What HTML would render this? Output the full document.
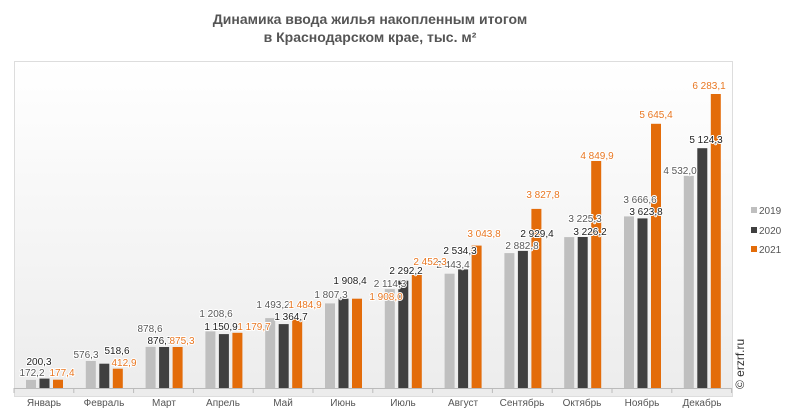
<!DOCTYPE html>
<html><head><meta charset="utf-8"><style>
body{margin:0;background:#fff;}
svg{display:block;font-family:"Liberation Sans",Arial,sans-serif;}
.lb text{paint-order:stroke;stroke:#fff;stroke-width:2px;stroke-linejoin:round;}
</style></head><body>
<svg width="793" height="415" viewBox="0 0 793 415" xmlns="http://www.w3.org/2000/svg">
<defs><linearGradient id="bg" x1="0" y1="0" x2="0" y2="1"><stop offset="0" stop-color="#ffffff"/><stop offset="1" stop-color="#ececec"/></linearGradient></defs>
<text x="370" y="24" text-anchor="middle" font-size="14" font-weight="bold" fill="#555">Динамика ввода жилья накопленным итогом</text>
<text x="370" y="42" text-anchor="middle" font-size="14" font-weight="bold" fill="#555">в Краснодарском крае, тыс. м²</text>
<rect x="14.5" y="61.5" width="718" height="335" fill="url(#bg)" stroke="#ddd"/>
<line x1="14" y1="388.5" x2="732" y2="388.5" stroke="#bbb"/>
<g stroke="#bbb">
<line x1="14" y1="388" x2="14" y2="393"/><line x1="73.8" y1="388" x2="73.8" y2="393"/><line x1="133.6" y1="388" x2="133.6" y2="393"/><line x1="193.4" y1="388" x2="193.4" y2="393"/><line x1="253.2" y1="388" x2="253.2" y2="393"/><line x1="313" y1="388" x2="313" y2="393"/><line x1="372.8" y1="388" x2="372.8" y2="393"/><line x1="432.6" y1="388" x2="432.6" y2="393"/><line x1="492.4" y1="388" x2="492.4" y2="393"/><line x1="552.2" y1="388" x2="552.2" y2="393"/><line x1="612" y1="388" x2="612" y2="393"/><line x1="671.8" y1="388" x2="671.8" y2="393"/><line x1="731.6" y1="388" x2="731.6" y2="393"/>
</g>
<g fill="#bfbfbf">
<rect x="26" y="379.9" width="10" height="8.1"/><rect x="85.8" y="361" width="10" height="27"/><rect x="145.6" y="346.9" width="10" height="41.1"/><rect x="205.4" y="331.4" width="10" height="56.6"/><rect x="265.2" y="318.1" width="10" height="69.9"/><rect x="325" y="303.4" width="10" height="84.6"/><rect x="384.8" y="289.1" width="10" height="98.9"/><rect x="444.6" y="273.7" width="10" height="114.3"/><rect x="504.4" y="253.1" width="10" height="134.9"/><rect x="564.2" y="237.1" width="10" height="150.9"/><rect x="624" y="216.4" width="10" height="171.6"/><rect x="683.8" y="175.9" width="10" height="212.1"/>
</g>
<g fill="#404040">
<rect x="39.5" y="378.6" width="10" height="9.4"/><rect x="99.3" y="363.7" width="10" height="24.3"/><rect x="159.1" y="347" width="10" height="41"/><rect x="218.9" y="334.1" width="10" height="53.9"/><rect x="278.7" y="324.1" width="10" height="63.9"/><rect x="338.5" y="298.7" width="10" height="89.3"/><rect x="398.3" y="280.7" width="10" height="107.3"/><rect x="458.1" y="269.4" width="10" height="118.6"/><rect x="517.9" y="250.9" width="10" height="137.1"/><rect x="577.7" y="237" width="10" height="151"/><rect x="637.5" y="218.4" width="10" height="169.6"/><rect x="697.3" y="148.2" width="10" height="239.8"/>
</g>
<g fill="#e36c0a">
<rect x="53" y="379.7" width="10" height="8.3"/><rect x="112.8" y="368.7" width="10" height="19.3"/><rect x="172.6" y="347" width="10" height="41"/><rect x="232.4" y="332.8" width="10" height="55.2"/><rect x="292.2" y="318.5" width="10" height="69.5"/><rect x="352" y="298.7" width="10" height="89.3"/><rect x="411.8" y="273.2" width="10" height="114.8"/><rect x="471.6" y="245.6" width="10" height="142.4"/><rect x="531.4" y="208.9" width="10" height="179.1"/><rect x="591.2" y="161" width="10" height="227"/><rect x="651" y="123.8" width="10" height="264.2"/><rect x="710.8" y="94" width="10" height="294"/>
</g>
<g font-size="10" fill="#555" text-anchor="middle">
<text x="44" y="406">Январь</text><text x="104" y="406">Февраль</text><text x="164" y="406">Март</text><text x="223" y="406">Апрель</text><text x="283" y="406">Май</text><text x="343" y="406">Июнь</text><text x="403" y="406">Июль</text><text x="463" y="406">Август</text><text x="522" y="406">Сентябрь</text><text x="582" y="406">Октябрь</text><text x="642" y="406">Ноябрь</text><text x="702" y="406">Декабрь</text>
</g>
<g font-size="10" text-anchor="middle" class="lb">
<g fill="#595959">
<text x="32" y="376">172,2</text><text x="86" y="358">576,3</text><text x="150" y="332">878,6</text><text x="216" y="317">1 208,6</text><text x="273" y="308">1 493,2</text><text x="331" y="298">1 807,3</text><text x="390" y="287">2 114,3</text><text x="453" y="268">2 443,4</text><text x="522" y="249">2 882,8</text><text x="585" y="222">3 225,3</text><text x="640" y="203">3 666,6</text><text x="680" y="174">4 532,0</text>
</g>
<g fill="#222">
<text x="39" y="365">200,3</text><text x="117" y="354">518,6</text><text x="160" y="344">876,7</text><text x="221" y="330">1 150,9</text><text x="291" y="320">1 364,7</text><text x="350" y="284">1 908,4</text><text x="406" y="274">2 292,2</text><text x="460" y="254">2 534,3</text><text x="537" y="237">2 929,4</text><text x="590" y="235">3 226,2</text><text x="646" y="215">3 623,8</text><text x="706" y="143">5 124,3</text>
</g>
<g fill="#e87722">
<text x="62" y="376">177,4</text><text x="124" y="366">412,9</text><text x="182" y="344">875,3</text><text x="254" y="330">1 179,7</text><text x="305" y="308">1 484,9</text><text x="386" y="300">1 908,0</text><text x="430" y="265">2 452,3</text><text x="484" y="237">3 043,8</text><text x="543" y="198">3 827,8</text><text x="597" y="159">4 849,9</text><text x="656" y="118">5 645,4</text><text x="709" y="89">6 283,1</text>
</g>
</g>
<rect x="751" y="207" width="6" height="6" fill="#bfbfbf"/><text x="759" y="214" font-size="10" fill="#555">2019</text>
<rect x="751" y="227" width="6" height="6" fill="#404040"/><text x="759" y="234" font-size="10" fill="#555">2020</text>
<rect x="751" y="246" width="6" height="6" fill="#e36c0a"/><text x="759" y="253" font-size="10" fill="#555">2021</text>
<text transform="translate(744,389) rotate(-90)" font-size="12" fill="#333">© erzrf.ru</text>
</svg>
</body></html>
